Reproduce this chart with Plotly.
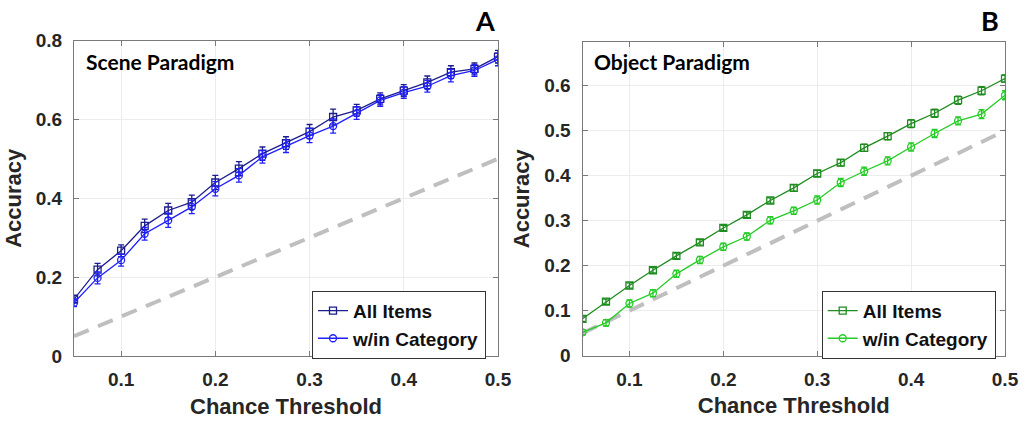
import plotly.graph_objects as go

thresholds = [0.05, 0.075, 0.1, 0.125, 0.15, 0.175, 0.2, 0.225, 0.25, 0.275,
              0.3, 0.325, 0.35, 0.375, 0.4, 0.425, 0.45, 0.475, 0.5]

scene_all = [0.144, 0.219, 0.267, 0.330, 0.369, 0.390, 0.440, 0.475, 0.513, 0.540,
             0.569, 0.606, 0.623, 0.652, 0.673, 0.694, 0.720, 0.728, 0.759]
scene_all_err = [0.010, 0.016, 0.015, 0.017, 0.018, 0.018, 0.018, 0.018, 0.017, 0.016,
                 0.018, 0.020, 0.015, 0.015, 0.015, 0.016, 0.016, 0.015, 0.016]
scene_cat = [0.135, 0.198, 0.243, 0.310, 0.344, 0.378, 0.424, 0.458, 0.505, 0.532,
             0.559, 0.583, 0.616, 0.648, 0.668, 0.684, 0.711, 0.724, 0.752]
scene_cat_err = [0.010, 0.015, 0.015, 0.016, 0.018, 0.017, 0.018, 0.017, 0.016, 0.016,
                 0.018, 0.018, 0.016, 0.015, 0.015, 0.015, 0.016, 0.015, 0.016]

object_all = [0.082, 0.120, 0.156, 0.190, 0.222, 0.252, 0.284, 0.313, 0.345, 0.373,
              0.405, 0.429, 0.462, 0.488, 0.516, 0.539, 0.568, 0.589, 0.616]
object_all_err = [0.006, 0.006, 0.006, 0.006, 0.006, 0.006, 0.006, 0.006, 0.006, 0.007,
                  0.007, 0.007, 0.008, 0.008, 0.009, 0.009, 0.009, 0.009, 0.008]
object_cat = [0.052, 0.073, 0.116, 0.139, 0.182, 0.213, 0.242, 0.265, 0.301, 0.322,
              0.346, 0.385, 0.410, 0.433, 0.464, 0.494, 0.522, 0.537, 0.579]
object_cat_err = [0.006, 0.007, 0.008, 0.008, 0.008, 0.008, 0.008, 0.008, 0.008, 0.008,
                  0.009, 0.009, 0.009, 0.009, 0.009, 0.009, 0.009, 0.010, 0.010]

chance = [0.05, 0.5]

x_ticks = [0.1, 0.2, 0.3, 0.4, 0.5]
x_ticklabels = ["0.1", "0.2", "0.3", "0.4", "0.5"]
scene_yticks = [0, 0.2, 0.4, 0.6, 0.8]
scene_yticklabels = ["0", "0.2", "0.4", "0.6", "0.8"]
object_yticks = [0, 0.1, 0.2, 0.3, 0.4, 0.5, 0.6]
object_yticklabels = ["0", "0.1", "0.2", "0.3", "0.4", "0.5", "0.6"]

series_names = ["All Items", "w/in Category"]
panel_titles = ["Scene Paradigm", "Object Paradigm"]
panel_letters = ["A", "B"]
x_title = "Chance Threshold"
y_title = "Accuracy"

C_SCENE_ALL = "#1c1c8f"
C_SCENE_CAT = "#1f1fff"
C_OBJ_ALL = "#1e8c1e"
C_OBJ_CAT = "#26cc26"
C_CHANCE = "#bfbfbf"

fig = go.Figure()

def add_series(x, y, err, color, symbol, name, xa, ya, legend):
    fig.add_trace(go.Scatter(
        x=x, y=y, name=name, mode="lines+markers",
        xaxis=xa, yaxis=ya, legend=legend,
        line=dict(color=color, width=1.3),
        marker=dict(symbol=symbol, size=7, color=color, line=dict(color=color, width=1.3)),
        error_y=dict(type="data", array=err, visible=True, color=color, thickness=1.3, width=3),
    ))

fig.add_trace(go.Scatter(x=chance, y=chance, mode="lines", xaxis="x", yaxis="y",
                         line=dict(color=C_CHANCE, width=4, dash="16px,10px"),
                         showlegend=False, hoverinfo="skip"))
fig.add_trace(go.Scatter(x=chance, y=chance, mode="lines", xaxis="x2", yaxis="y2",
                         line=dict(color=C_CHANCE, width=4, dash="16px,10px"),
                         showlegend=False, hoverinfo="skip"))

add_series(thresholds, scene_all, scene_all_err, C_SCENE_ALL, "square-open", series_names[0], "x", "y", "legend")
add_series(thresholds, scene_cat, scene_cat_err, C_SCENE_CAT, "circle-open", series_names[1], "x", "y", "legend")
add_series(thresholds, object_all, object_all_err, C_OBJ_ALL, "square-open", series_names[0], "x2", "y2", "legend2")
add_series(thresholds, object_cat, object_cat_err, C_OBJ_CAT, "circle-open", series_names[1], "x2", "y2", "legend2")

W, H = 1025, 421
def px_x(p): return p / W
def px_y(p): return 1 - p / H

tickfont = dict(family="Liberation Sans, Arial", size=19, color="#262626", weight="bold")
titlefont = dict(family="Liberation Sans, Arial", size=22, color="#262626", weight="bold")

common_x = dict(range=[0.05, 0.5], tickmode="array", tickvals=x_ticks, ticktext=x_ticklabels,
                showgrid=True, gridcolor="#ececec", gridwidth=1, zeroline=False,
                showline=True, linecolor="#7a7a7a", linewidth=1, mirror="allticks",
                ticks="inside", ticklen=5, tickcolor="#7a7a7a",
                tickfont=tickfont, ticklabelstandoff=6,
                title=dict(text=x_title, font=titlefont, standoff=9), automargin=False)
common_y = dict(showgrid=True, gridcolor="#ececec", gridwidth=1, zeroline=False,
                showline=True, linecolor="#7a7a7a", linewidth=1, mirror="allticks",
                ticks="inside", ticklen=5, tickcolor="#7a7a7a",
                tickfont=tickfont, ticklabelstandoff=7,
                tickmode="array",
                title=dict(text=y_title, font=titlefont, standoff=8), automargin=False)

legfont = dict(family="Liberation Sans, Arial", size=19, color="#111111", weight="bold")

fig.update_layout(
    width=W, height=H,
    margin=dict(l=0, r=0, t=0, b=0),
    paper_bgcolor="white", plot_bgcolor="white",
    showlegend=True,
    xaxis=dict(domain=[px_x(74), px_x(498)], anchor="y", **common_x),
    yaxis=dict(domain=[px_y(356), px_y(40.5)], anchor="x", range=[0, 0.8],
               tickvals=scene_yticks, ticktext=scene_yticklabels, **common_y),
    xaxis2=dict(domain=[px_x(582.5), px_x(1005)], anchor="y2", **common_x),
    yaxis2=dict(domain=[px_y(355.7), px_y(41.7)], anchor="x2", range=[0, 0.698],
                tickvals=object_yticks, ticktext=object_yticklabels, **common_y),
    legend=dict(x=px_x(312), y=px_y(290.7), xanchor="left", yanchor="top",
                bgcolor="white", bordercolor="#333333", borderwidth=1,
                font=legfont, tracegroupgap=0, itemwidth=30),
    legend2=dict(x=px_x(821.7), y=px_y(290.7), xanchor="left", yanchor="top",
                 bgcolor="white", bordercolor="#333333", borderwidth=1,
                 font=legfont, tracegroupgap=0, itemwidth=30),
    annotations=[
        dict(text="<b>" + panel_titles[0] + "</b>", x=px_x(84), y=px_y(61), xref="paper", yref="paper",
             xanchor="left", yanchor="middle", showarrow=False,
             font=dict(family="Lato, Open Sans", size=21, color="black")),
        dict(text="<b>" + panel_titles[1] + "</b>", x=px_x(592), y=px_y(61), xref="paper", yref="paper",
             xanchor="left", yanchor="middle", showarrow=False,
             font=dict(family="Lato, Open Sans", size=21, color="black")),
        dict(text="<b>" + panel_letters[0] + "</b>", x=px_x(485), y=px_y(21), xref="paper", yref="paper",
             xanchor="center", yanchor="middle", showarrow=False,
             font=dict(family="Lato, Open Sans", size=27, color="black")),
        dict(text="<b>" + panel_letters[1] + "</b>", x=px_x(990), y=px_y(21), xref="paper", yref="paper",
             xanchor="center", yanchor="middle", showarrow=False,
             font=dict(family="Lato, Open Sans", size=27, color="black")),
    ],
)

fig.write_html("out.html")
